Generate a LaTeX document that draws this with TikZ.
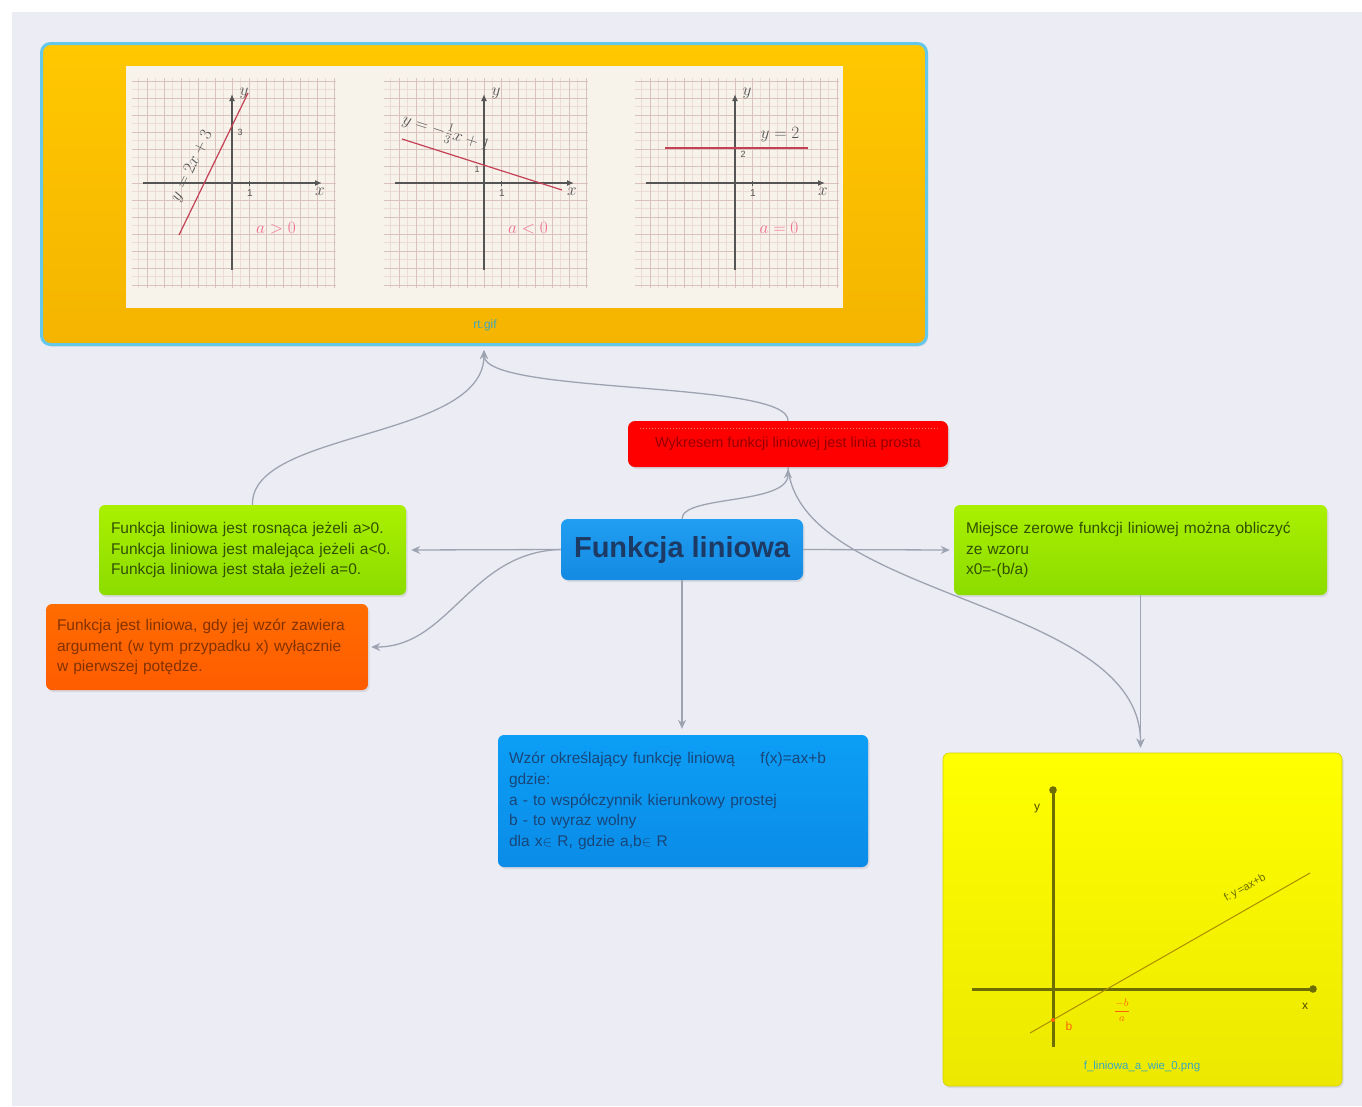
\documentclass[tikz,border=0pt]{standalone}
\usepackage{fontspec}
\setmainfont{Liberation Sans}
\usetikzlibrary{arrows.meta,shadows}
\definecolor{bgc}{RGB}{236,236,244}
\definecolor{conncol}{RGB}{158,163,178}
\definecolor{tiT}{RGB}{255,200,0}
\definecolor{tiB}{RGB}{245,180,0}
\definecolor{tiborder}{RGB}{100,200,235}
\definecolor{panelc}{RGB}{247,242,234}
\definecolor{minorg}{RGB}{236,220,214}
\definecolor{majorg}{RGB}{218,194,188}
\definecolor{axisc}{RGB}{85,85,85}
\definecolor{redline}{RGB}{196,64,84}
\definecolor{pinkc}{RGB}{240,110,140}
\definecolor{capc}{RGB}{60,168,190}
\definecolor{rdtext}{RGB}{150,0,0}
\definecolor{flT}{RGB}{32,158,242}
\definecolor{flB}{RGB}{20,138,226}
\definecolor{fltext}{RGB}{28,58,100}
\definecolor{grT}{RGB}{170,240,0}
\definecolor{grB}{RGB}{140,220,0}
\definecolor{grtext}{RGB}{50,80,0}
\definecolor{orT}{RGB}{255,108,0}
\definecolor{orB}{RGB}{255,92,0}
\definecolor{ortext}{RGB}{130,50,0}
\definecolor{blT}{RGB}{12,158,246}
\definecolor{blB}{RGB}{10,140,232}
\definecolor{bltext}{RGB}{25,70,120}
\definecolor{yeT}{RGB}{255,255,0}
\definecolor{yeB}{RGB}{236,232,0}
\definecolor{olive2}{RGB}{110,110,0}
\definecolor{fline}{RGB}{170,140,0}
\definecolor{orangec}{RGB}{255,100,0}
\begin{document}
\begin{tikzpicture}[x=1pt,y=-1pt,
  conn/.style={draw=conncol, line width=1.3pt, -{Stealth[length=9pt,width=8pt]}},
  box/.style={rounded corners=6pt, inner ysep=0pt,
    drop shadow={opacity=0.18,shadow xshift=1.5pt,shadow yshift=-2pt}},
  txt/.style={font=\fontsize{15.5}{20.8}\selectfont, align=left},
  minorl/.style={draw=minorg, line width=0.5pt},
  majorl/.style={draw=majorg, line width=0.8pt},
  gaxis/.style={draw=axisc, line width=1.6pt, -{Latex[length=7pt,width=6pt]}},
  glab/.style={text=axisc, inner sep=1pt},
  rline/.style={draw=redline, line width=1.2pt}
]
\useasboundingbox (0,0) rectangle (1362,1106);
\fill[white] (0,0) rectangle (1362,1106);
\fill[bgc] (12,12) rectangle (1362,1106);

% ---------- top image box ----------
\node[box, rounded corners=9pt, top color=tiT, bottom color=tiB, draw=tiborder, line width=3pt,
  minimum width=885pt, minimum height=301pt, inner sep=0pt] (ti) at (484,194) {};
\fill[panelc] (126,66) rectangle (843,308);
\node[font=\fontsize{12}{12}\selectfont, text=capc] (tical) at (485,325) {rt.gif};

% graph panels
\foreach \ox/\nm in {232/a,484/b,735/c}{
  \begin{scope}[shift={(\ox,183)}]
    \foreach \k in {-11,...,12} \draw[minorl] (\k*8.5,-105) -- (\k*8.5,105);
    \foreach \k in {-12,...,12} \draw[minorl] (-100,\k*8.5) -- (104,\k*8.5);
    \foreach \k in {-5,...,6} \draw[majorl] (\k*17,-105) -- (\k*17,105);
    \foreach \k in {-6,...,6} \draw[majorl] (-100,\k*17) -- (104,\k*17);
    \draw[gaxis] (-89,0) -- (90,0);
    \draw[gaxis] (0,87) -- (0,-89);
    \draw[axisc, line width=0.8pt] (17,-2) -- (17,3);
    \node[glab, font=\fontsize{10}{10}\selectfont] (one\nm) at (18,10) {1};
    \node[glab, font=\fontsize{16}{16}\selectfont] (xl\nm) at (88,9) {$x$};
    \node[glab, font=\fontsize{16}{16}\selectfont] (yl\nm) at (12,-90) {$y$};
  \end{scope}
}
% graph 1
\begin{scope}[shift={(232,183)}]
  \draw[rline] (-53,52) -- (16,-90);
  \node[glab, rotate=64, font=\fontsize{17}{17}\selectfont] (eq1) at (-40,-17) {$y=2x+3$};
  \node[glab, font=\fontsize{9}{9}\selectfont] (i1) at (8,-51) {3};
  \node[text=pinkc, font=\fontsize{17}{17}\selectfont] (a1) at (44,45) {$a>0$};
\end{scope}
% graph 2
\begin{scope}[shift={(484,183)}]
  \draw[rline] (-82,-44) -- (78,7);
  \node[glab, rotate=-18, font=\fontsize{17}{17}\selectfont] (eq2) at (-38,-50) {$y=-\frac{1}{3}x+1$};
  \node[glab, font=\fontsize{9}{9}\selectfont] (i2) at (-7,-14) {1};
  \node[text=pinkc, font=\fontsize{17}{17}\selectfont] (a2) at (44,45) {$a<0$};
\end{scope}
% graph 3
\begin{scope}[shift={(735,183)}]
  \draw[rline] (-70,-35) -- (73,-35);
  \node[glab, font=\fontsize{19}{19}\selectfont] (eq3) at (45,-48) {$y=2$};
  \node[glab, font=\fontsize{9}{9}\selectfont] (i3) at (8,-29) {2};
  \node[text=pinkc, font=\fontsize{17}{17}\selectfont] (a3) at (44,45) {$a=0$};
\end{scope}

% ---------- red box ----------
\node[box, rounded corners=7pt, fill=red, minimum width=320pt, minimum height=46pt, inner sep=0pt,
  text=rdtext, font=\fontsize{14.5}{16}\selectfont] (rd) at (788,444) {Wykresem funkcji liniowej jest linia prosta};
\draw[red!55!white, line width=1pt, dotted] (640,428) -- (938,428);

% ---------- central ----------
\node[box, rounded corners=7pt, top color=flT, bottom color=flB, minimum width=242pt, minimum height=61pt,
  inner sep=0pt, text=fltext, font=\fontsize{29}{32}\selectfont\bfseries] (fl) at (682,549.5) {Funkcja liniowa};

% ---------- left green ----------
\node[box, txt, top color=grT, bottom color=grB, text=grtext, inner xsep=12pt, text width=283pt,
  minimum height=90pt] (lg) at (252.5,550) {Funkcja liniowa jest rosnąca jeżeli a>0.\\Funkcja liniowa jest malejąca jeżeli a<0.\\Funkcja liniowa jest stała jeżeli a=0.};

% ---------- orange ----------
\node[box, txt, top color=orT, bottom color=orB, text=ortext, inner xsep=11pt, text width=300pt,
  minimum height=86pt] (orb) at (207,647) {Funkcja jest liniowa, gdy jej wzór zawiera\\argument (w tym przypadku x) wyłącznie\\w pierwszej potędze.};

% ---------- right green ----------
\node[box, txt, top color=grT, bottom color=grB, text=grtext, inner xsep=12pt, text width=349pt,
  minimum height=90pt] (rg) at (1140.5,550) {Miejsce zerowe funkcji liniowej można obliczyć\\ze wzoru\\x0=-(b/a)};

% ---------- lower blue ----------
\node[box, txt, top color=blT, bottom color=blB, text=bltext, inner xsep=11pt, text width=348pt,
  minimum height=132pt] (bl) at (683,801) {Wzór określający funkcję liniową\quad\ \ f(x)=ax+b\\gdzie:\\a - to współczynnik kierunkowy prostej\\b - to wyraz wolny\\dla x$\in$ R, gdzie a,b$\in$ R};

% ---------- yellow image ----------
\node[box, top color=yeT, bottom color=yeB, draw=yeB!90!black, line width=0.6pt,
  minimum width=399pt, minimum height=333pt, inner sep=0pt] (yi) at (1142.5,919.5) {};
\draw[olive2, line width=3pt] (972,989) -- (1313,989);
\fill[olive2] (1313,989) circle (3.8);
\draw[olive2, line width=3pt] (1053,1047) -- (1053,790);
\fill[olive2] (1053,790) circle (3.8);
\draw[fline, line width=1pt] (1030,1033) -- (1310,873);
\fill[orangec] (1053,1020) circle (2);
\node[rotate=29.7, text=olive2, font=\fontsize{11}{12}\selectfont] (flab) at (1245,888) {f:\,y\,=ax+b};
\node[text=olive2!70!black, font=\fontsize{12}{12}\selectfont] (ylab) at (1037,809) {y};
\node[text=olive2!70!black, font=\fontsize{12}{12}\selectfont] (xlab) at (1305,1006) {x};
\node[text=orangec, font=\fontsize{12}{12}\selectfont] (blab) at (1069,1026) {b};
\node[text=orangec, font=\fontsize{11}{11}\selectfont, inner sep=0pt] (balab) at (1122,1010) {$\displaystyle\frac{-b}{a}$};
\node[text=capc, font=\fontsize{11.5}{12}\selectfont] (yical) at (1142,1067) {f\_liniowa\_a\_wie\_0.png};

% ---------- connectors ----------
\draw[conn, shorten >=5pt] (fl.west) -- (lg.east);
\draw[conn, shorten >=4pt] (fl.east) -- (rg.west);
\draw[conn, shorten >=6pt] (fl.south) -- (fl.south |- bl.north);
\draw[conn, shorten >=3pt] (fl.west) .. controls (470,552) and (450,647) .. (orb.east);
\draw[conn, shorten >=2pt] (fl.north) .. controls (682,495) and (788,505) .. (rd.south);
\draw[conn, shorten >=5pt] (rd.south) .. controls (800,600) and (1141,600) .. (rg.south |- yi.north);
\draw[conn, shorten >=5pt] (rg.south) -- (rg.south |- yi.north);
\draw[conn, shorten >=4pt] (lg.north) .. controls (250,430) and (484,440) .. (ti.south);
\draw[conn, shorten >=4pt] (rd.north) .. controls (790,380) and (484,395) .. (ti.south);
\end{tikzpicture}
\end{document}
